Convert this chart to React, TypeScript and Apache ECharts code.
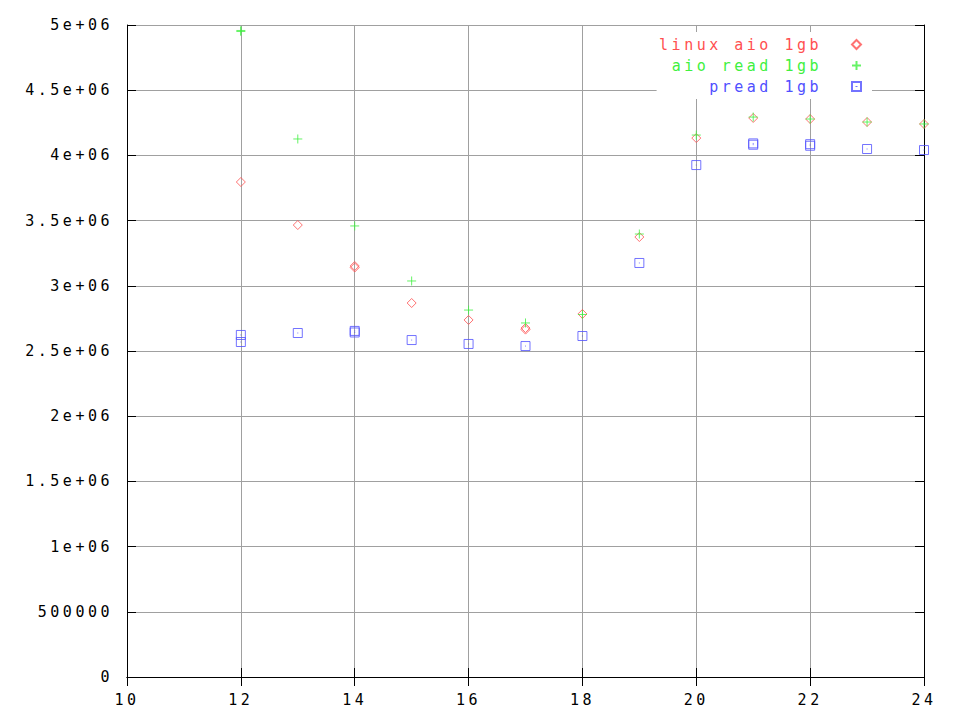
import { useEffect, useRef } from "react";
import * as echarts from "echarts";

const xTicks = { min: 10, max: 24, interval: 2 };
const yTicks = { min: 0, max: 5000000, interval: 500000 };

const seriesNames = ["linux aio 1gb", "aio read 1gb", "pread 1gb"];
const seriesColors = ["#ff5050", "#40f040", "#5050ff"];

const linuxAioX = [12, 13, 14, 14, 15, 16, 17, 17, 18, 19, 20, 21, 22, 23, 24];
const linuxAioY = [3796000, 3466000, 3140000, 3152000, 2868000, 2738000, 2664000, 2676000, 2784000, 3374000, 4133000, 4287000, 4279000, 4256000, 4241000];

const aioReadX = [12, 12, 13, 14, 15, 16, 17, 18, 19, 20, 21, 22, 23, 24];
const aioReadY = [4950000, 4958000, 4126000, 3459000, 3037000, 2814000, 2715000, 2780000, 3397000, 4156000, 4294000, 4279000, 4256000, 4241000];

const preadX = [12, 12, 13, 14, 14, 15, 16, 17, 18, 19, 20, 21, 21, 22, 22, 23, 24];
const preadY = [2623000, 2569000, 2638000, 2642000, 2654000, 2584000, 2554000, 2538000, 2615000, 3175000, 3926000, 4082000, 4092000, 4074000, 4086000, 4049000, 4041000];

const FONT = "DejaVu Sans Mono";

const symDiamond = "path://M5,0 L10,5 L5,10 L0,5 Z";
const symPlus = "path://M0,5 L10,5 M5,0 L5,10";
const symSquare = "path://M0,0 L10,0 L10,10 L0,10 Z M5,4.5 L5,5.5";

function pairs(xs: number[], ys: number[]) {
  return xs.map((x, i) => [x, ys[i]]);
}

function yFmt(v: number) {
  if (v === 0) return "0";
  if (v < 1000000) return String(v);
  return v / 1000000 + "e+06";
}

export default function App() {
  const ref = useRef<HTMLDivElement>(null);
  useEffect(() => {
    if (!ref.current) return;
    const chart = echarts.init(ref.current, undefined, { renderer: "svg" });
    const axisLine = { show: true, lineStyle: { color: "#000", width: 1 } };
    const tick = { show: true, inside: true, length: 9, lineStyle: { color: "#000", width: 1 } };
    const grid = { show: true, lineStyle: { color: "#a0a0a0", width: 1, type: "solid" as const } };
    const label = { fontFamily: FONT, fontSize: 15, color: "#000" };
    const symbols = [symDiamond, symPlus, symSquare];
    const datas = [pairs(linuxAioX, linuxAioY), pairs(aioReadX, aioReadY), pairs(preadX, preadY)];
    chart.setOption({
      animation: false,
      backgroundColor: "#fff",
      grid: { left: 127, right: 36, top: 25, bottom: 43, containLabel: false },
      xAxis: [
        {
          type: "value", ...xTicks, position: "bottom",
          axisLine, axisTick: tick, splitLine: grid,
          axisLabel: { ...label, margin: 15 },
        },
        {
          type: "value", ...xTicks, position: "top",
          axisLine, axisTick: tick, splitLine: { show: false }, axisLabel: { show: false },
        },
      ],
      yAxis: [
        {
          type: "value", ...yTicks, position: "left",
          axisLine, axisTick: tick, splitLine: grid,
          axisLabel: { ...label, margin: 14, formatter: yFmt },
        },
        {
          type: "value", ...yTicks, position: "right",
          axisLine, axisTick: tick, splitLine: { show: false }, axisLabel: { show: false },
        },
      ],
      legend: {
        orient: "vertical",
        right: 88,
        top: 32,
        align: "right",
        itemWidth: 9,
        itemHeight: 9,
        itemGap: 0,
        backgroundColor: "#fff",
        padding: [2, 10, 2, 48],
        selectedMode: false,
        textStyle: { fontFamily: FONT, fontSize: 15, lineHeight: 21, padding: [0, 25, 0, 0] },
        data: seriesNames.map((n, i) => ({ name: n, textStyle: { color: seriesColors[i] } })),
      },
      series: seriesNames.map((n, i) => ({
        name: n,
        type: "scatter",
        symbol: symbols[i],
        symbolSize: 9,
        xAxisIndex: 0,
        yAxisIndex: 0,
        itemStyle: { color: "rgba(0,0,0,0)", borderColor: seriesColors[i], borderWidth: 1 },
        emphasis: { disabled: true },
        data: datas[i],
      })),
    });
    return () => chart.dispose();
  }, []);
  return (
    <div
      ref={ref}
      style={{ position: "absolute", left: 0, top: 0, width: 960, height: 720, letterSpacing: "3.5px" }}
    />
  );
}
